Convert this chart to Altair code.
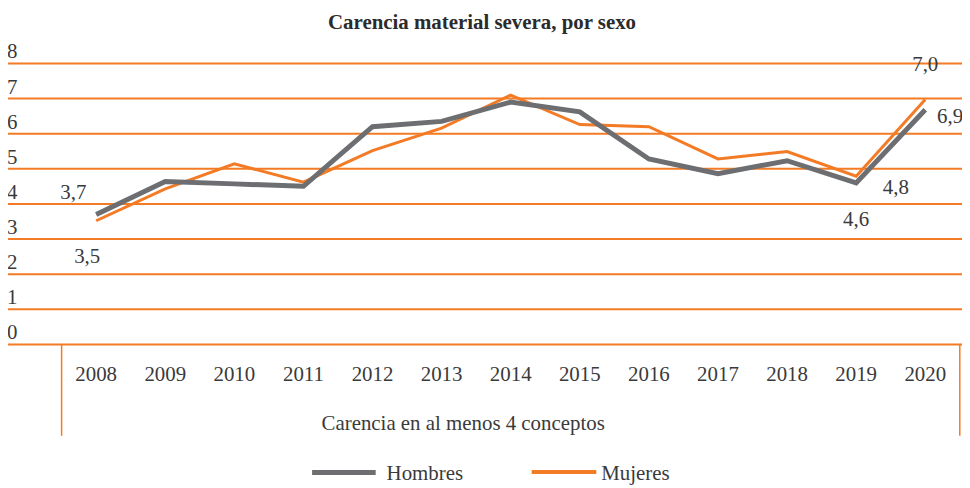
import altair as alt
import pandas as pd

# ---- data ----
years = list(range(2008, 2021))
hombres = [3.70, 4.64, 4.57, 4.50, 6.20, 6.35, 6.90, 6.62, 5.28, 4.86, 5.23, 4.60, 6.68]
mujeres = [3.52, 4.43, 5.14, 4.62, 5.52, 6.16, 7.10, 6.26, 6.20, 5.28, 5.49, 4.79, 6.97]
y_ticks = [0, 1, 2, 3, 4, 5, 6, 7, 8]
series_names = ["Hombres", "Mujeres"]
label_series = ["Hombres", "Mujeres", "Hombres", "Mujeres", "Mujeres", "Hombres"]
label_years = [2008, 2008, 2019, 2019, 2020, 2020]
label_texts = ["3,7", "3,5", "4,6", "4,8", "7,0", "6,9"]
title_text = "Carencia material severa, por sexo"
category_text = "Carencia en al menos 4 conceptos"
box_edges = [2007.5, 2020.5]

# ---- layout / style ----
W, H = 960, 478
FONT = "Liberation Serif"
FS = 21
TXT = "#3a3a3a"
ORANGE = "#F47B25"
GRAY = "#6D6E71"
label_offsets = [(-23, -22), (-9, 36), (0, 37), (40, 12), (0, -35), (25, 7)]

xscale = alt.Scale(domain=[2006.724, 2020.532], zero=False, nice=False)
yscale = alt.Scale(domain=[-3.99, 9.536], zero=False, nice=False)

df = pd.DataFrame({
    "year": years * 2,
    "value": hombres + mujeres,
    "serie": [series_names[0]] * len(years) + [series_names[1]] * len(years),
})
grid_df = pd.DataFrame({"v": y_ticks, "lab": [str(v) for v in y_ticks]})
years_df = pd.DataFrame({"year": years, "lab": [str(y) for y in years]})
box_df = pd.DataFrame({"x": box_edges})

X = alt.X("year:Q", scale=xscale, axis=None)
Y = alt.Y("value:Q", scale=yscale, axis=None)

grid = alt.Chart(grid_df).mark_rule(color=ORANGE, strokeWidth=2).encode(
    y=alt.Y("v:Q", scale=yscale, axis=None), x=alt.value(-2), x2=alt.value(W)
)
ylabels = alt.Chart(grid_df).mark_text(
    align="left", baseline="alphabetic", dy=-5, font=FONT, fontSize=FS, color=TXT
).encode(y=alt.Y("v:Q", scale=yscale, axis=None), x=alt.value(-1), text="lab:N")

box = alt.Chart(box_df).mark_rule(color=ORANGE, strokeWidth=1.5).encode(
    x=alt.X("x:Q", scale=xscale, axis=None), y=alt.value(337), y2=alt.value(429)
)
xlabels = alt.Chart(years_df).mark_text(
    align="center", baseline="alphabetic", font=FONT, fontSize=FS, color=TXT
).encode(x=X, y=alt.value(373.5), text="lab:N")

cat = alt.Chart(pd.DataFrame({"t": [category_text]})).mark_text(
    align="center", baseline="alphabetic", font=FONT, fontSize=FS, color=TXT
).encode(x=alt.value(458), y=alt.value(423.5), text="t:N")

title = alt.Chart(pd.DataFrame({"t": [title_text]})).mark_text(
    align="center", baseline="alphabetic", font=FONT, fontSize=FS, fontWeight="bold", color="#2b2b2b"
).encode(x=alt.value(477), y=alt.value(19.5), text="t:N")

line_m = alt.Chart(df).transform_filter(alt.datum.serie == series_names[1]).mark_line(
    color=ORANGE, strokeWidth=3
).encode(x=X, y=Y)
line_h = alt.Chart(df).transform_filter(alt.datum.serie == series_names[0]).mark_line(
    color=GRAY, strokeWidth=5
).encode(x=X, y=Y)

labels = []
for s, yr, t, (dx, dy) in zip(label_series, label_years, label_texts, label_offsets):
    labels.append(
        alt.Chart(df).transform_filter(
            (alt.datum.serie == s) & (alt.datum.year == yr)
        ).mark_text(
            align="center", baseline="middle", dx=dx, dy=dy, font=FONT, fontSize=FS, color=TXT, text=t
        ).encode(x=X, y=Y)
    )

# legend
leg_h_line = alt.Chart(pd.DataFrame({"a": [0]})).mark_rule(color=GRAY, strokeWidth=5).encode(
    x=alt.value(306), x2=alt.value(370), y=alt.value(466)
)
leg_h_txt = alt.Chart(pd.DataFrame({"t": [series_names[0]]})).mark_text(
    align="left", baseline="alphabetic", font=FONT, fontSize=FS, color=TXT
).encode(x=alt.value(381), y=alt.value(473.5), text="t:N")
leg_m_line = alt.Chart(pd.DataFrame({"a": [0]})).mark_rule(color=ORANGE, strokeWidth=4).encode(
    x=alt.value(527), x2=alt.value(592), y=alt.value(465.5)
)
leg_m_txt = alt.Chart(pd.DataFrame({"t": [series_names[1]]})).mark_text(
    align="left", baseline="alphabetic", font=FONT, fontSize=FS, color=TXT
).encode(x=alt.value(597), y=alt.value(473.5), text="t:N")

chart = alt.layer(
    grid, box, ylabels, xlabels, cat, title, line_m, line_h, *labels,
    leg_h_line, leg_h_txt, leg_m_line, leg_m_txt
).properties(
    width=W, height=H, padding=0, autosize=alt.AutoSizeParams(type="none")
).configure_view(stroke=None)

chart.save("out.html", embed_options={"renderer": "svg", "actions": False})
